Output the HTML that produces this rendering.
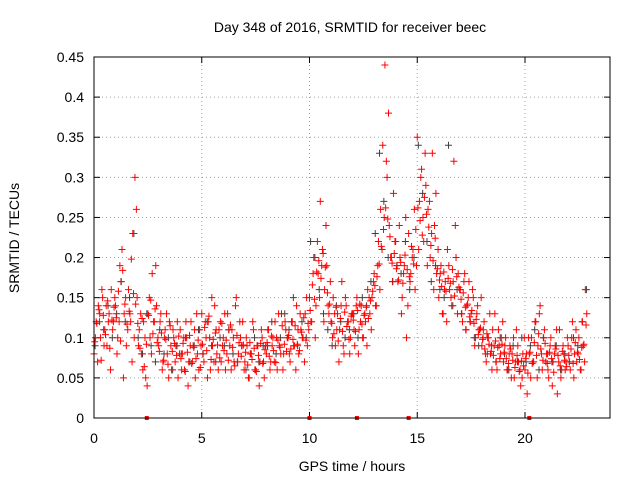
<!DOCTYPE html>
<html><head><meta charset="utf-8"><style>
body{margin:0;background:#fff}
svg{display:block;font-family:"Liberation Sans",sans-serif}
</style></head><body>
<svg id="c" width="640" height="480" xmlns="http://www.w3.org/2000/svg">
<rect x="0" y="0" width="640" height="480" fill="#fff"/>
<text x="350" y="32" text-anchor="middle" font-size="14">Day 348 of 2016, SRMTID for receiver beec</text>
<text transform="translate(19,238) rotate(-90)" text-anchor="middle" font-size="14">SRMTID / TECUs</text>
<text x="352" y="471" text-anchor="middle" font-size="14">GPS time / hours</text>
<g id="grid"></g>
<g id="axes"></g>
<g id="marks"></g>
<rect x="94" y="57" width="516" height="361" fill="none" stroke="#000" stroke-width="1"/>
</svg>
<script>
const xTicks=[0,5,10,15,20];
const yTicks=[0,0.05,0.1,0.15,0.2,0.25,0.3,0.35,0.4,0.45];
const yTickLabels=["0","0.05","0.1","0.15","0.2","0.25","0.3","0.35","0.4","0.45"];
const redA=[.08,.12,.14,.10,.15,.11,.09,.13,.16,.12,
.14,.10,.19,.21,.13,.09,.16,.12,.23,.30,
.15,.11,.08,.12,.05,.13,.10,.18,.12,.14,
.09,.13,.07,.11,.08,.12,.06,.10,.09,.05,
.11,.08,.06,.10,.07,.12,.09,.05,.08,.11,
.13,.07,.10,.12,.06,.09,.14,.08,.11,.07,
.10,.06,.13,.09,.11,.07,.15,.08,.10,.12,
.07,.09,.05,.08,.11,.06,.09,.07,.10,.05,
.08,.11,.07,.10,.12,.06,.09,.13,.08,.11,
.10,.07,.12,.09,.14,.08,.11,.10,.13,.09,
.15,.12,.20,.14,.18,.27,.21,.16,.19,.13,
.12,.15,.09,.13,.11,.17,.08,.14,.12,.10,
.13,.09,.15,.11,.14,.10,.12,.16,.13,.15,
.18,.14,.22,.26,.34,.44,.30,.24,.20,.28,
.22,.17,.20,.15,.19,.10,.23,.18,.21,.16,
.35,.27,.31,.22,.29,.26,.20,.33,.24,.18,
.15,.19,.13,.17,.21,.16,.14,.32,.20,.18,
.16,.12,.18,.14,.17,.13,.15,.10,.14,.11,
.09,.12,.07,.10,.08,.11,.13,.06,.09,.10,
.07,.10,.06,.09,.08,.05,.11,.07,.04,.08,
.06,.03,.08,.10,.07,.12,.09,.14,.06,.11,
.08,.05,.10,.07,.09,.03,.11,.06,.08,.07,
.09,.06,.12,.08,.07,.10,.06,.09,.16];
const redB=[.10,.07,.13,.16,.09,.14,.12,.06,.11,.15,
.08,.12,.17,.05,.15,.11,.13,.07,.10,.26,
.09,.13,.06,.10,.04,.15,.08,.12,.19,.10,
.12,.06,.10,.13,.05,.09,.11,.07,.12,.08,
.06,.10,.12,.04,.09,.07,.11,.13,.06,.09,
.08,.12,.05,.10,.15,.07,.11,.06,.12,.09,
.13,.08,.11,.06,.10,.14,.07,.12,.09,.06,
.10,.05,.08,.12,.06,.09,.04,.11,.07,.09,
.11,.06,.09,.07,.10,.13,.08,.06,.12,.10,
.08,.12,.09,.06,.11,.13,.10,.07,.15,.11,
.12,.18,.10,.22,.15,.19,.12,.24,.14,.17,
.10,.13,.11,.07,.14,.09,.15,.12,.08,.13,
.11,.14,.08,.12,.10,.13,.09,.15,.11,.17,
.14,.19,.16,.21,.25,.32,.38,.20,.17,.22,
.19,.24,.13,.18,.25,.14,.17,.20,.26,.19,
.21,.30,.25,.33,.19,.27,.23,.16,.28,.21,
.18,.13,.16,.12,.19,.15,.17,.24,.13,.16,
.13,.17,.11,.15,.12,.16,.09,.13,.11,.15,
.11,.08,.10,.13,.06,.09,.07,.11,.08,.12,
.09,.06,.08,.05,.10,.07,.09,.06,.05,.10,
.08,.10,.05,.07,.12,.05,.13,.08,.10,.07,
.06,.09,.04,.08,.11,.07,.05,.09,.06,.10,
.07,.10,.05,.11,.08,.06,.12,.07,.13];
const redC=[.095,.118,.135,.072,.128,.104,.146,.087,.122,.138,
.125,.158,.096,.184,.142,.117,.133,.198,.155,.142,
.118,.087,.124,.064,.092,.128,.147,.105,.136,.094,
.083,.106,.072,.098,.067,.115,.083,.093,.078,.102,
.074,.093,.058,.082,.103,.068,.088,.074,.097,.063,
.092,.113,.084,.127,.073,.098,.106,.091,.075,.118,
.084,.097,.072,.116,.088,.065,.103,.094,.077,.091,
.082,.066,.094,.073,.087,.058,.078,.093,.068,.085,
.094,.077,.102,.084,.069,.097,.088,.115,.092,.083,
.103,.086,.098,.115,.092,.084,.107,.125,.097,.118,
.134,.166,.148,.182,.196,.174,.205,.188,.156,.142,
.118,.105,.138,.096,.124,.108,.132,.114,.098,.127,
.122,.108,.134,.142,.117,.128,.138,.124,.146,.158,
.165,.176,.192,.214,.235,.262,.248,.226,.193,.205,
.186,.172,.194,.168,.203,.185,.176,.214,.192,.235,
.262,.246,.228,.275,.254,.238,.215,.196,.224,.186,
.172,.164,.182,.158,.174,.168,.185,.152,.176,.163,
.148,.156,.138,.142,.126,.134,.118,.123,.104,.112,
.098,.086,.105,.092,.083,.078,.096,.088,.074,.092,
.082,.074,.068,.086,.072,.063,.078,.058,.071,.065,
.074,.056,.082,.068,.094,.078,.105,.086,.072,.093,
.068,.082,.074,.057,.086,.078,.065,.083,.072,.064,
.078,.086,.068,.094,.082,.073,.088,.092,.116];
const grayC=[.09,.12,.11,.14,.10,.13,.17,.12,.15,.23,
.10,.08,.13,.09,.07,.11,.08,.10,.06,.09,
.08,.10,.07,.09,.11,.08,.12,.09,.07,.10,
.09,.11,.08,.07,.09,.06,.08,.10,.07,.09,
.09,.12,.08,.10,.13,.11,.15,.09,.12,.10,
.22,.20,.16,.13,.11,.09,.14,.12,.10,.11,
.13,.10,.15,.14,.17,.23,.33,.27,.20,.17,
.19,.18,.22,.16,.20,.34,.28,.22,.17,.19,
.16,.15,.34,.14,.16,.13,.11,.12,.10,.09,
.10,.08,.09,.07,.10,.08,.06,.09,.07,.10,
.07,.09,.11,.06,.10,.08,.07,.09,.06,.08,
.07,.10,.09,.12,.16];
const gapTimes=[2.45,10.0,12.2,14.6,20.2];

const NS="http://www.w3.org/2000/svg";
const X=t=>94+t*21.55;
const Y=v=>418-v*(361/0.45);
function mk(tag,attrs,parent){const e=document.createElementNS(NS,tag);for(const k in attrs)e.setAttribute(k,attrs[k]);parent.appendChild(e);return e;}
const grid=document.getElementById('grid'),axes=document.getElementById('axes'),marks=document.getElementById('marks');
yTicks.forEach((v,i)=>{
  const y=Y(v);
  if(i>0&&i<yTicks.length-1){const l=mk('line',{x1:94,x2:610,y1:y,y2:y,stroke:'#a0a0a0','stroke-dasharray':'1,3'},grid);
  
  }
  mk('line',{x1:94,x2:100,y1:y,y2:y,stroke:'#000'},axes);
  mk('line',{x1:604,x2:610,y1:y,y2:y,stroke:'#000'},axes);
  const t=mk('text',{x:84,y:y+5,'text-anchor':'end','font-size':'14'},axes);
  t.textContent=yTickLabels[i];
  
  
});
xTicks.forEach(v=>{
  const x=X(v);
  if(v>0){const l=mk('line',{x1:x,x2:x,y1:57,y2:418,stroke:'#a0a0a0','stroke-dasharray':'1,3'},grid);
  
  }
  mk('line',{x1:x,x2:x,y1:412,y2:418,stroke:'#000'},axes);
  mk('line',{x1:x,x2:x,y1:57,y2:63,stroke:'#000'},axes);
  const t=mk('text',{x:x,y:443,'text-anchor':'middle','font-size':'14'},axes);
  t.textContent=String(v);
  
  
});
function plus(x,y,color,name){
  const p=mk('path',{d:`M${x-3.5},${y}h7M${x},${y-3.5}v7`,stroke:color,'stroke-width':1,fill:'none'},marks);
  
  
}
grayC.forEach((v,i)=>plus(X(i*0.2+0.05),Y(v),'#404040','gray-point'));
redA.forEach((v,i)=>plus(X(i*0.1),Y(v),'#ff0000','red-point'));
redC.forEach((v,i)=>plus(X(i*0.1+0.033),Y(v),'#ff0000','red-point'));
redB.forEach((v,i)=>plus(X(i*0.1+0.066),Y(v),'#ff0000','red-point'));
gapTimes.forEach(t=>{
  const r=mk('rect',{x:X(t)-2,y:416,width:4,height:4,fill:'#ff0000'},marks);
  
  
});
</script>
</body></html>
